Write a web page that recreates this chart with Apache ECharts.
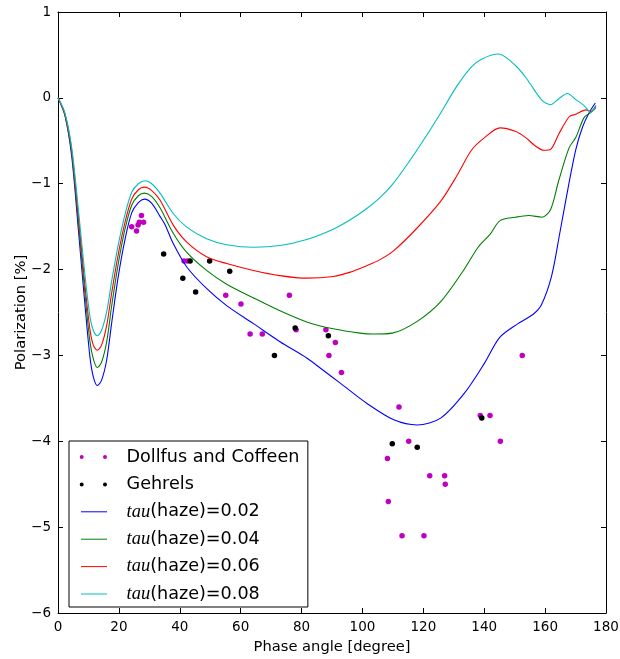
<!DOCTYPE html>
<html><head><meta charset="utf-8">
<script src="https://cdn.jsdelivr.net/npm/echarts/dist/echarts.min.js"></script>
<style>html,body{margin:0;padding:0;background:#fff}#c{width:620px;height:659px}</style>
</head><body><div id="c"></div>
<script>
// ---- data ----
const xTicks = [0, 20, 40, 60, 80, 100, 120, 140, 160, 180];
const yTicks = [-6, -5, -4, -3, -2, -1, 0, 1];

const dollfusCoffeen = [
  [24.2,-1.5],[25.8,-1.55],[26.3,-1.48],[26.7,-1.45],[27.4,-1.37],[28.1,-1.45],
  [41.4,-1.9],[42.5,-1.9],[55.1,-2.3],[60.1,-2.4],[63.1,-2.75],[67.1,-2.75],
  [76.0,-2.3],[78.2,-2.7],[88.0,-2.7],[91.1,-2.85],[89.0,-3.0],[93.1,-3.2],
  [152.5,-3.0],[112.0,-3.6],[138.7,-3.7],[141.9,-3.7],[115.2,-4.0],[145.3,-4.0],
  [108.2,-4.2],[122.1,-4.4],[127.0,-4.4],[127.2,-4.5],[108.5,-4.7],[113.0,-5.1],[120.2,-5.1]
];
const gehrels = [
  [34.7,-1.82],[43.4,-1.9],[41.0,-2.1],[45.2,-2.26],[49.8,-1.9],[56.4,-2.02],
  [71.1,-3.0],[77.9,-2.68],[88.8,-2.77],[109.8,-4.03],[118.0,-4.07],[139.2,-3.73]
];
const tau002 = [
  [0,0],[2.3,-0.21],[4.5,-0.68],[6.7,-1.54],[8.9,-2.43],[10.5,-3.02],[11.6,-3.25],[12.9,-3.35],
  [14.3,-3.29],[16.0,-3.05],[17.6,-2.63],[19.8,-2.08],[22.0,-1.65],[24.2,-1.34],[26.4,-1.22],
  [28.4,-1.18],[30.8,-1.23],[33.5,-1.38],[35.2,-1.48],[37.9,-1.70],[42.3,-1.97],[48.8,-2.22],
  [55.4,-2.42],[64.2,-2.63],[72.9,-2.84],[81.7,-3.03],[87,-3.17],[92.6,-3.32],[101.5,-3.56],
  [110.3,-3.75],[118,-3.81],[125.7,-3.73],[133.5,-3.44],[140.1,-3.09],[145.1,-2.79],[151.1,-2.63],
  [156.1,-2.52],[158.8,-2.41],[162.1,-2.08],[164.8,-1.58],[167.6,-1.04],[170.1,-0.60],
  [172.3,-0.34],[174.5,-0.17],[176.5,-0.06]
];
const tau004 = [
  [0,0],[2.3,-0.2],[4.5,-0.64],[6.7,-1.45],[8.9,-2.30],[10.5,-2.84],[11.6,-3.04],[12.9,-3.14],
  [14.3,-3.08],[16.0,-2.84],[17.6,-2.43],[19.8,-1.93],[22.0,-1.53],[24.2,-1.25],[26.4,-1.14],
  [28.4,-1.11],[30.8,-1.15],[33.5,-1.28],[37.9,-1.58],[42.3,-1.80],[48.8,-2.01],[55.4,-2.17],
  [64.2,-2.33],[72.9,-2.48],[81.7,-2.61],[90.4,-2.69],[99.2,-2.74],[103.7,-2.75],[109.8,-2.74],
  [118.1,-2.60],[125.8,-2.37],[133,-2.02],[138,-1.74],[141.9,-1.59],[145.2,-1.43],[150.2,-1.39],
  [154.6,-1.37],[159,-1.39],[161.8,-1.30],[164.5,-0.96],[167.9,-0.58],[170.1,-0.46],
  [172.8,-0.23],[175,-0.17],[176.7,-0.09]
];
const tau006 = [
  [0,0],[2.3,-0.19],[4.5,-0.61],[6.7,-1.38],[8.9,-2.20],[10.5,-2.70],[11.6,-2.88],[12.9,-2.94],
  [14.3,-2.88],[16.0,-2.65],[17.6,-2.28],[19.8,-1.82],[22.0,-1.45],[24.2,-1.18],[26.4,-1.07],
  [28.4,-1.04],[30.8,-1.08],[33.5,-1.19],[37.9,-1.485],[42.3,-1.68],[48.8,-1.85],[55.4,-1.93],
  [64.2,-2.01],[72.9,-2.07],[81.7,-2.10],[90.4,-2.08],[96,-2.03],[101,-1.96],[105.5,-1.89],[110.3,-1.78],
  [118.1,-1.51],[125.8,-1.20],[131.3,-0.89],[135.8,-0.61],[140.2,-0.46],[145.2,-0.35],
  [150.2,-0.39],[153.5,-0.46],[156.8,-0.56],[159.6,-0.61],[161.8,-0.60],[164.5,-0.42],
  [167.9,-0.22],[170.1,-0.19],[173.4,-0.14],[175,-0.16],[176.7,-0.11]
];
const tau008 = [
  [0,0],[2.3,-0.18],[4.5,-0.58],[6.7,-1.30],[8.9,-2.08],[10.5,-2.55],[11.6,-2.71],[12.9,-2.77],
  [14.3,-2.71],[16.0,-2.49],[17.6,-2.14],[19.8,-1.71],[22.0,-1.36],[24.2,-1.10],[26.4,-1.00],
  [28.6,-0.965],[30.8,-1.00],[33.5,-1.11],[37.9,-1.35],[42.3,-1.505],[48.8,-1.64],[55.4,-1.71],
  [64.2,-1.74],[72.9,-1.72],[81.7,-1.65],[90.4,-1.53],[96,-1.42],[101,-1.30],[105.5,-1.17],[109.8,-1.01],
  [114.8,-0.77],[120.3,-0.48],[125.8,-0.17],[130.8,0.125],[135.8,0.36],[139.1,0.45],[144.6,0.51],
  [150.2,0.38],[154,0.22],[159,-0.03],[161.8,-0.08],[164.5,-0.01],[167.3,0.05],[170.1,-0.02],
  [172.8,-0.09],[175,-0.17],[176.7,-0.09]
];
const seriesNames = ['Dollfus and Coffeen','Gehrels','tau(haze)=0.02','tau(haze)=0.04','tau(haze)=0.06','tau(haze)=0.08'];
const colors = ['#bf00bf','#000000','#0000ff','#008000','#ff0000','#00bfbf'];

// ---- chart ----
const FONT = 'DejaVu Sans';
const minus = v => String(v).replace('-', '\u2212');
const axisCommon = {
  type: 'value',
  axisLine: { show: true, onZero: false, lineStyle: { color: '#000', width: 1 } },
  axisTick: { show: true, inside: true, length: 5, lineStyle: { color: '#000', width: 1 } },
  splitLine: { show: false },
  minorTick: { show: false }
};
const labelStyle = { color: '#000', fontFamily: FONT, fontSize: 13.5, showMinLabel: true, showMaxLabel: true, hideOverlap: false, formatter: minus };

const xMin = xTicks[0], xMax = xTicks[xTicks.length-1], xStep = xTicks[1]-xTicks[0];
const yMin = yTicks[0], yMax = yTicks[yTicks.length-1], yStep = yTicks[1]-yTicks[0];

const dotIcon = 'path://M0,0M42,10M0.2,5a2,2 0 1,0 4,0a2,2 0 1,0 -4,0zM23.5,5a2,2 0 1,0 4,0a2,2 0 1,0 -4,0z';
const lineIcon = 'path://M0,0M42,10M1.5,4.5h26v1h-26z';

const lineData = [tau002, tau004, tau006, tau008];

const option = {
  animation: false,
  backgroundColor: '#fff',
  grid: { left: 58, right: 14, top: 12, bottom: 46, containLabel: false, outerBoundsMode: 'none' },
  xAxis: [
    Object.assign({}, axisCommon, { position: 'bottom', min: xMin, max: xMax, interval: xStep,
      axisLabel: Object.assign({}, labelStyle, { margin: 7 }),
      name: 'Phase angle [degree]', nameLocation: 'middle', nameGap: 27, nameMoveOverlap: false,
      nameTextStyle: { color: '#000', fontFamily: FONT, fontSize: 14.7 } }),
    Object.assign({}, axisCommon, { position: 'top', min: xMin, max: xMax, interval: xStep,
      axisLabel: { show: false } })
  ],
  yAxis: [
    Object.assign({}, axisCommon, { position: 'left', min: yMin, max: yMax, interval: yStep,
      axisLabel: Object.assign({}, labelStyle, { margin: 7 }),
      name: 'Polarization [%]', nameLocation: 'middle', nameGap: 29, nameRotate: 90, nameMoveOverlap: false,
      nameTextStyle: { color: '#000', fontFamily: FONT, fontSize: 14.7 } }),
    Object.assign({}, axisCommon, { position: 'right', min: yMin, max: yMax, interval: yStep,
      axisLabel: { show: false } })
  ],
  legend: {
    orient: 'vertical', left: 69, top: 441,
    padding: [6, 8.5, 3, 10.5],
    itemWidth: 42, itemHeight: 10, itemGap: 7.4,
    borderColor: '#000', borderWidth: 1, borderRadius: 0, backgroundColor: '#fff',
    symbolKeepAspect: false,
    itemStyle: { borderWidth: 0, opacity: 1 },
    textStyle: { fontFamily: FONT, fontSize: 17.6, color: '#000', lineHeight: 20,
      rich: { i: { fontFamily: 'Liberation Serif', fontStyle: 'italic', fontSize: 18.5, color: '#000', lineHeight: 20 } } },
    formatter: n => n.indexOf('tau') === 0 ? '{i|tau}' + n.slice(3) : n,
    data: seriesNames.map((n, i) => ({ name: n, icon: i < 2 ? dotIcon : lineIcon }))
  },
  series: [
    { name: seriesNames[0], type: 'scatter', data: dollfusCoffeen, symbol: 'circle', symbolSize: 5.5,
      itemStyle: { color: colors[0], opacity: 1 }, silent: true },
    { name: seriesNames[1], type: 'scatter', data: gehrels, symbol: 'circle', symbolSize: 5.5,
      itemStyle: { color: colors[1], opacity: 1 }, silent: true }
  ].concat(lineData.map((d, i) => ({
    name: seriesNames[i+2], type: 'line', data: d, showSymbol: false, symbol: 'none',
    smooth: 0.3, lineStyle: { color: colors[i+2], width: 1.1, opacity: 1 }, itemStyle: { color: colors[i+2] }, silent: true
  })))
};
const chart = echarts.init(document.getElementById('c'), null, { renderer: 'canvas' });
chart.setOption(option);
</script>
</body></html>
